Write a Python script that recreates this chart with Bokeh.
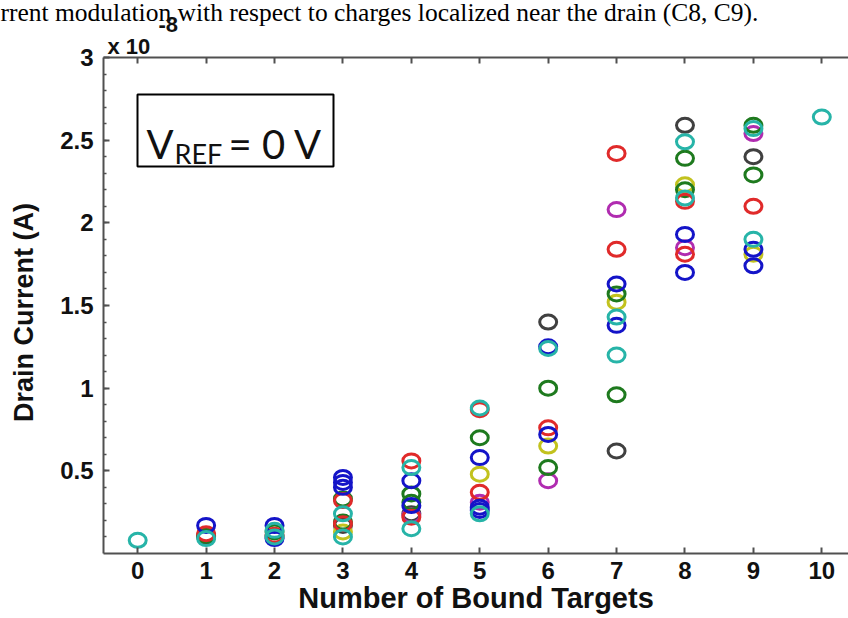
import math
from bokeh.plotting import figure
from bokeh.models import Range1d, FixedTicker, LinearAxis, Label, BoxAnnotation
from bokeh.embed import file_html
from bokeh.resources import INLINE

# ---------------- data (values in units of 1e-8 A) ----------------
x_ticks = [0, 1, 2, 3, 4, 5, 6, 7, 8, 9, 10]
y_ticks = [0.5, 1, 1.5, 2, 2.5, 3]

blue_x = [1, 2, 2, 3, 3, 3, 4, 4, 5, 5, 5, 6, 6, 7, 7, 8, 8, 9, 9]
blue_y = [0.17, 0.17, 0.09, 0.46, 0.43, 0.40, 0.44, 0.29, 0.58, 0.28, 0.26,
          1.25, 0.72, 1.63, 1.38, 1.93, 1.70, 1.84, 1.74]
green_x = [1, 2, 3, 3, 4, 4, 5, 6, 6, 7, 7, 8, 8, 9, 9]
green_y = [0.11, 0.13, 0.33, 0.19, 0.36, 0.31, 0.70, 1.00, 0.52, 1.57, 0.96,
           2.39, 2.20, 2.59, 2.29]
red_x = [1, 2, 3, 3, 4, 4, 5, 5, 6, 7, 7, 8, 8, 9]
red_y = [0.12, 0.11, 0.32, 0.18, 0.56, 0.22, 0.87, 0.37, 0.76, 2.42, 1.84,
         2.13, 1.81, 2.10]
cyan_x = [0, 1, 2, 2, 3, 3, 4, 4, 5, 5, 6, 7, 7, 8, 8, 9, 9, 10]
cyan_y = [0.08, 0.09, 0.14, 0.10, 0.24, 0.10, 0.52, 0.15, 0.88, 0.24, 1.24,
          1.43, 1.20, 2.49, 2.15, 2.57, 1.90, 2.64]
magenta_x = [4, 5, 6, 7, 8, 9]
magenta_y = [0.23, 0.31, 0.44, 2.08, 1.85, 2.54]
yellow_x = [3, 5, 6, 7, 8, 9]
yellow_y = [0.13, 0.48, 0.65, 1.52, 2.23, 1.81]
black_x = [1, 2, 3, 4, 6, 7, 8, 9]
black_y = [0.10, 0.10, 0.17, 0.24, 1.40, 0.62, 2.59, 2.40]

series = [
    (black_x, black_y, "#404040"),
    (yellow_x, yellow_y, "#c2c21e"),
    (magenta_x, magenta_y, "#b02cb0"),
    (green_x, green_y, "#1e7a1e"),
    (red_x, red_y, "#e02a2a"),
    (blue_x, blue_y, "#1414c8"),
    (cyan_x, cyan_y, "#27b4a8"),
]

# ---------------- figure ----------------
X0, X1 = -0.5, 10.39
Y0, Y1 = 0.0, 3.0
W, H = 848, 618
FL, FR, FT, FB = 103, 848, 57, 553      # intended frame edges (canvas px)

p = figure(width=W, height=H, output_backend="svg", toolbar_location=None,
           x_range=Range1d(X0, X1), y_range=Range1d(Y0, Y1),
           x_axis_type=None, y_axis_type=None,
           min_border_left=FL, min_border_right=W - FR,
           min_border_top=FT, min_border_bottom=H - FB)
p.outline_line_color = None
p.background_fill_color = "white"
p.border_fill_color = "white"


def xd(px):
    return X0 + (px - FL) / (FR - FL) * (X1 - X0)


def yd(py):
    return Y0 + (FB - py) / (FB - FT) * (Y1 - Y0)


AX_COL = "#505050"
FONT = "Liberation Sans"
TXT = "#111111"

yt = FixedTicker(ticks=y_ticks, minor_ticks=[i / 10 for i in range(1, 30)])
xt = FixedTicker(ticks=x_ticks, minor_ticks=[])
xt_top = FixedTicker(ticks=[], minor_ticks=x_ticks)

left = LinearAxis(ticker=yt)
bottom = LinearAxis(ticker=xt, axis_label="Number of Bound Targets")
top = LinearAxis(ticker=xt_top)

for ax in (left, bottom, top):
    ax.axis_line_color = AX_COL
    ax.axis_line_width = 2
    ax.major_tick_line_color = AX_COL
    ax.minor_tick_line_color = AX_COL
    ax.major_tick_line_width = 2
    ax.minor_tick_line_width = 1.5
    ax.major_tick_in = 6
    ax.major_tick_out = 0
    ax.minor_tick_in = 3
    ax.minor_tick_out = 0
    ax.major_label_text_font = FONT
    ax.major_label_text_font_style = "bold"
    ax.major_label_text_font_size = "24px"
    ax.major_label_text_color = TXT
    ax.axis_label_text_font = FONT
    ax.axis_label_text_font_style = "bold"
    ax.axis_label_text_color = TXT

left.major_label_standoff = 10
bottom.major_label_standoff = 8
bottom.axis_label_text_font_size = "29px"
bottom.axis_label_standoff = 0
top.minor_tick_in = 6
top.minor_tick_line_width = 2
top.major_label_standoff = 0

p.add_layout(left, "left")
p.add_layout(bottom, "below")
p.add_layout(top, "above")

for xs, ys, col in series:
    p.ellipse(x=xs, y=ys, width=17, height=14,
              width_units="screen", height_units="screen",
              fill_color=None, line_color=col, line_width=3)

# y axis title (rotated) and exponent marker, kept in the left margin
p.add_layout(Label(x=xd(23), y=yd(312), text="Drain Current (A)", angle=math.pi / 2,
                   text_font=FONT, text_font_style="bold", text_font_size="27px",
                   text_color=TXT, text_align="center", text_baseline="middle"), "left")
p.add_layout(Label(x=xd(158), y=yd(24), text="-8", text_font=FONT,
                   text_font_style="bold", text_font_size="22px",
                   text_color=TXT, text_baseline="alphabetic"), "left")

# "x 10" and the caption fragment in the top margin
p.add_layout(Label(x=xd(107), y=yd(46), text="x 10", text_font=FONT,
                   text_font_style="bold", text_font_size="22px",
                   text_color=TXT, text_baseline="alphabetic"), "above")
p.add_layout(Label(x=xd(0), y=yd(12),
                   text="rrent modulation with respect to charges localized near the drain (C8, C9).",
                   text_font="Liberation Serif", text_font_size="25.5px",
                   text_color="#000000", text_baseline="alphabetic"), "above")

# V_REF box
p.add_layout(BoxAnnotation(left=xd(137), right=xd(333), top=yd(94), bottom=yd(166),
                           fill_color="white", fill_alpha=1.0,
                           line_color="black", line_alpha=1.0, line_width=2))
p.add_layout(Label(x=xd(146), y=yd(143), text="V", text_font="Lato",
                   text_font_size="40px", text_color=TXT,
                   text_baseline="alphabetic"))
p.add_layout(Label(x=xd(174), y=yd(153), text="REF", text_font="Lato",
                   text_font_size="27px", text_color=TXT,
                   text_baseline="alphabetic"))
p.add_layout(Label(x=xd(228), y=yd(143), text="= 0 V", text_font="Lato",
                   text_font_size="40px", text_color=TXT,
                   text_baseline="alphabetic"))

open("out.html", "w").write(file_html(p, INLINE))
